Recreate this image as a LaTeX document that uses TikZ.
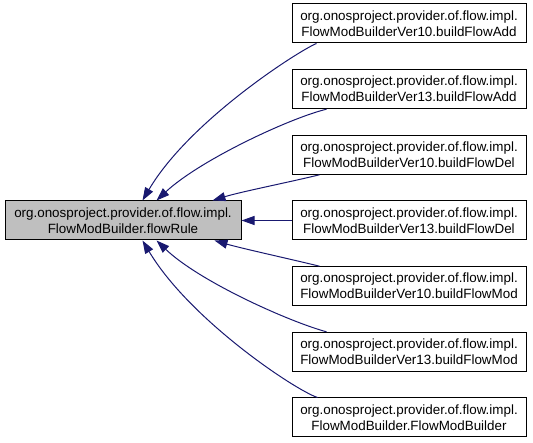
\documentclass[tikz,border=0pt]{standalone}
\usepackage{fontspec}
\setmainfont{Liberation Sans}
\usetikzlibrary{arrows.meta}
\definecolor{edgeblue}{HTML}{191970}
\tikzset{
  box/.style={draw=black, line width=1pt, minimum width=234pt, minimum height=39pt,
    inner sep=0pt, align=center, font=\fontsize{13.4}{16}\selectfont},
  mainbox/.style={box, fill=black!25, minimum width=236pt},
  edge/.style={draw=edgeblue, line width=1pt,
    {Triangle[length=13pt,width=9pt]}-}
}
\begin{document}
\begin{tikzpicture}[x=1pt,y=-1pt]
\useasboundingbox (0,0) rectangle (533,443);
\node[mainbox] (main) at (123,220.5) {org.onosproject.provider.of.flow.impl.\\FlowModBuilder.flowRule};
\node[box] (r1) at (409,23.5) {org.onosproject.provider.of.flow.impl.\\FlowModBuilderVer10.buildFlowAdd};
\node[box] (r2) at (409,89.2) {org.onosproject.provider.of.flow.impl.\\FlowModBuilderVer13.buildFlowAdd};
\node[box] (r3) at (409,154.8) {org.onosproject.provider.of.flow.impl.\\FlowModBuilderVer10.buildFlowDel};
\node[box] (r4) at (409,220.5) {org.onosproject.provider.of.flow.impl.\\FlowModBuilderVer13.buildFlowDel};
\node[box] (r5) at (409,286.2) {org.onosproject.provider.of.flow.impl.\\FlowModBuilderVer10.buildFlowMod};
\node[box] (r6) at (409,351.8) {org.onosproject.provider.of.flow.impl.\\FlowModBuilderVer13.buildFlowMod};
\node[box] (r7) at (409,417.5) {org.onosproject.provider.of.flow.impl.\\FlowModBuilder.FlowModBuilder};
\draw[edge] ([xshift=138pt]main.north west) .. controls (190,120) and (300,50) .. ([xshift=25pt]r1.south west);
\draw[edge] ([xshift=152pt]main.north west) .. controls (200,160) and (290,118) .. ([xshift=35pt]r2.south west);
\draw[edge] ([xshift=208pt]main.north west) .. controls (240,192) and (290,182) .. ([xshift=28pt]r3.south west);
\draw[edge] (main.east) -- (r4.west);
\draw[edge] ([xshift=210pt]main.south west) .. controls (240,248) and (290,259) .. ([xshift=28pt]r5.north west);
\draw[edge] ([xshift=152pt]main.south west) .. controls (200,282) and (290,322) .. ([xshift=35pt]r6.north west);
\draw[edge] ([xshift=138pt]main.south west) .. controls (190,320) and (295,390) .. ([xshift=26pt]r7.north west);
\end{tikzpicture}
\end{document}
